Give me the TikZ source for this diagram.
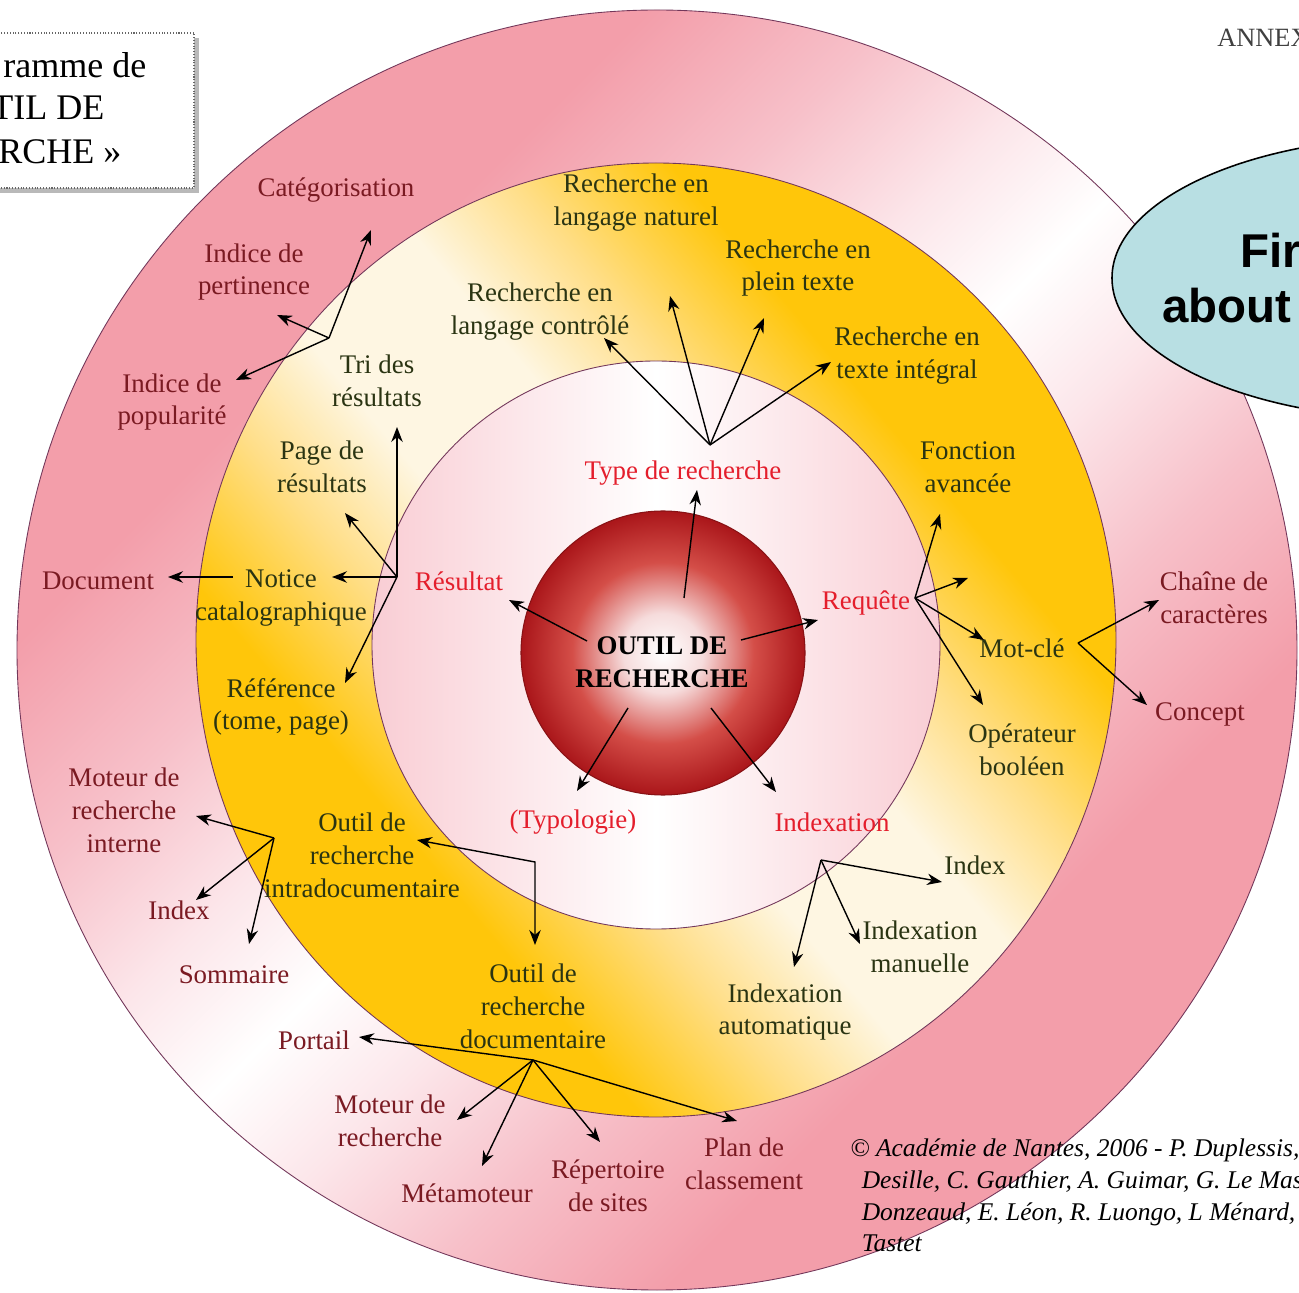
\documentclass[tikz,border=0pt]{standalone}
\usepackage{fontspec}
\setmainfont{Liberation Serif}
\newfontfamily\calloutfont{Liberation Sans}
\usetikzlibrary{arrows.meta}

\definecolor{pinkS}{RGB}{243,158,170}
\definecolor{pinkM}{RGB}{247,192,201}
\definecolor{pinkL}{RGB}{252,230,234}
\definecolor{goldS}{RGB}{255,198,10}
\definecolor{goldM}{RGB}{255,222,135}
\definecolor{goldL}{RGB}{254,246,226}
\definecolor{innerpink}{RGB}{249,205,212}
\definecolor{ballpale}{RGB}{246,220,220}
\definecolor{ballmid}{RGB}{212,78,72}
\definecolor{ballred}{RGB}{170,22,26}
\definecolor{edgeline}{RGB}{115,55,90}
\definecolor{outertext}{RGB}{122,26,34}
\definecolor{ringtext}{RGB}{42,52,18}
\definecolor{innertext}{RGB}{228,30,44}
\definecolor{calloutfill}{RGB}{184,223,227}

\pgfdeclareverticalshading{pinkaxis}{100bp}{color(0bp)=(pinkS); color(32bp)=(pinkS); color(39bp)=(pinkM); color(45bp)=(pinkL); color(50bp)=(white); color(55bp)=(pinkL); color(61bp)=(pinkM); color(68bp)=(pinkS); color(100bp)=(pinkS)}
\pgfdeclareverticalshading{goldaxis}{100bp}{color(0bp)=(goldS); color(33bp)=(goldS); color(40bp)=(goldM); color(46bp)=(goldL); color(54bp)=(goldL); color(60bp)=(goldM); color(67bp)=(goldS); color(100bp)=(goldS)}
\pgfdeclareradialshading{ballshade}{\pgfpoint{0bp}{0bp}}{color(0bp)=(white); color(7bp)=(ballpale); color(16bp)=(ballmid); color(25bp)=(ballred); color(50bp)=(ballred)}

\begin{document}
\begin{tikzpicture}[x=0.02cm,y=-0.02cm,
  lbl/.style={align=center,inner sep=1pt,font=\fontsize{15.3}{18.7}\selectfont},
  outerlbl/.style={lbl,text=outertext},
  ringlbl/.style={lbl,text=ringtext},
  innerlbl/.style={lbl,text=innertext},
  boxlbl/.style={anchor=west,inner sep=0pt,font=\fontsize{20.5}{24}\selectfont},
  arr/.style={-{Stealth[length=8.5pt,width=6.5pt]},line width=0.8pt},
  dblarr/.style={{Stealth[length=8.5pt,width=6.5pt]}-{Stealth[length=8.5pt,width=6.5pt]},line width=0.8pt}]
\useasboundingbox (0,0) rectangle (1299,1293);
\clip (0,0) rectangle (1299,1293);
\fill[white] (0,0) rectangle (1299,1293);

\shadedraw[shading=pinkaxis,shading angle=45,draw=edgeline,line width=0.5pt] (657,650) circle (640);
\shadedraw[shading=goldaxis,shading angle=-50,draw=edgeline,line width=0.5pt] (656,640) ellipse (460 and 477);
\shadedraw[left color=innerpink,right color=innerpink,middle color=white,draw=edgeline,line width=0.5pt] (656,645) circle (284);
\shadedraw[shading=ballshade,draw=ballred!80!black,line width=0.6pt] (663,653) circle (142);

\fill[gray!55] (-6,38) rectangle (199,193);
\draw[fill=white,draw=gray!80!black,densely dotted,line width=0.6pt] (-10,33) rectangle (194,188);
\node[boxlbl] (title1) at (3,65) {ramme de};
\node[boxlbl] (title2) at (-9,108) {TIL DE};
\node[boxlbl] (title3) at (-2,152) {RCHE »};

\node[anchor=west,inner sep=0pt,text=black!75,font=\fontsize{15}{18}\selectfont] (annex) at (1217,38) {ANNEX};

\draw[fill=calloutfill,line width=0.9pt] (1420,278) ellipse (308 and 141);
\node[anchor=base west,inner sep=0pt,font=\calloutfont\bfseries\fontsize{27}{32}\selectfont] (first) at (1240,268) {Fir};
\node[anchor=base west,inner sep=0pt,font=\calloutfont\bfseries\fontsize{27}{32}\selectfont] (about) at (1162,323) {about};

\node[anchor=north west,align=left,inner sep=0pt,font=\itshape\fontsize{14.5}{18.2}\selectfont] (credits) at (850,1138)
  {© Académie de Nantes, 2006 - P. Duplessis,\\\hspace*{0.45em}Desille, C. Gauthier, A. Guimar, G. Le Mas\\\hspace*{0.45em}Donzeaud, E. Léon, R. Luongo, L Ménard,\\\hspace*{0.45em}Tastet};

\node[outerlbl] (cat) at (336,190) {Catégorisation};
\node[outerlbl] (pert) at (254,272) {Indice de\\pertinence};
\node[outerlbl] (pop) at (172,402) {Indice de\\popularité};
\node[outerlbl] (doc) at (98,581) {Document};
\node[outerlbl] (moti) at (124,810) {Moteur de\\recherche\\interne};
\node[outerlbl] (indexl) at (179,910) {Index};
\node[outerlbl] (somm) at (234,975) {Sommaire};
\node[outerlbl] (port) at (314,1040) {Portail};
\node[outerlbl] (motr) at (390,1121) {Moteur de\\recherche};
\node[outerlbl] (meta) at (467,1193) {Métamoteur};
\node[outerlbl] (rep) at (608,1186) {Répertoire\\de sites};
\node[outerlbl] (plan) at (744,1164) {Plan de\\classement};
\node[outerlbl] (chaine) at (1214,598) {Chaîne de\\caractères};
\node[outerlbl] (concept) at (1200,714) {Concept};

\node[ringlbl] (natural) at (636,203) {Recherche en\\langage naturel};
\node[ringlbl] (plein) at (798,268) {Recherche en\\plein texte};
\node[ringlbl] (controle) at (540,312) {Recherche en\\langage contrôlé};
\node[ringlbl] (integral) at (907,356) {Recherche en\\texte intégral};
\node[ringlbl] (tri) at (377,381) {Tri des\\résultats};
\node[ringlbl] (page) at (322,467) {Page de\\résultats};
\node[ringlbl] (notice) at (281,598) {Notice\\catalographique};
\node[ringlbl] (ref) at (281,707) {Référence\\(tome, page)};
\node[ringlbl] (fonct) at (968,467) {Fonction\\avancée};
\node[ringlbl] (motcle) at (1022,648) {Mot-clé};
\node[ringlbl] (oper) at (1022,750) {Opérateur\\booléen};
\node[ringlbl] (intra) at (362,855) {Outil de\\recherche\\intradocumentaire};
\node[ringlbl] (outdoc) at (533,1006) {Outil de\\recherche\\documentaire};
\node[ringlbl] (indexr) at (975,865) {Index};
\node[ringlbl] (manu) at (920,947) {Indexation\\manuelle};
\node[ringlbl] (auto) at (785,1012) {Indexation\\automatique};

\node[innerlbl] (type) at (683,473) {Type de recherche};
\node[innerlbl] (resultat) at (459,581) {Résultat};
\node[innerlbl] (requete) at (866,603) {Requête};
\node[innerlbl] (typo) at (573,822) {(Typologie)};
\node[innerlbl] (indexation) at (832,822) {Indexation};

\node[align=center,inner sep=1pt,font=\bfseries\fontsize{15.3}{19}\selectfont] (outil) at (662,662) {OUTIL DE\\RECHERCHE};

\coordinate (hubTri) at (329,338);
\coordinate (hubRes) at (397,577);
\coordinate (hubType) at (710,445);
\coordinate (hubReq) at (915,598);
\coordinate (hubMot) at (1078,643);
\coordinate (hubIdx) at (821,860);
\coordinate (hubIntra) at (274,838);
\coordinate (hubDoc) at (533,1060);

\coordinate (toCat) at (371,230);
\coordinate (toPert) at (277,315);
\coordinate (toPop) at (236,380);
\coordinate (toTri) at (397,427);
\coordinate (toPage) at (345,513);
\coordinate (toNotice) at (332,577);
\coordinate (toRef) at (345,683);
\coordinate (fromNotice) at (233,577);
\coordinate (toDoc) at (168,577);
\coordinate (toCtrl) at (604,338);
\coordinate (toNat) at (670,296);
\coordinate (toPlein) at (764,318);
\coordinate (toInteg) at (831,362);
\coordinate (toFonct) at (940,514);
\coordinate (toBlank) at (968,578);
\coordinate (toMot) at (984,640);
\coordinate (toOper) at (983,705);
\coordinate (toChaine) at (1159,600);
\coordinate (toConcept) at (1147,705);
\coordinate (toIndexR) at (942,882);
\coordinate (toManu) at (860,944);
\coordinate (toAuto) at (794,967);
\coordinate (toMoti) at (196,816);
\coordinate (toIndexL) at (196,900);
\coordinate (toSomm) at (249,944);
\coordinate (toPort) at (359,1037);
\coordinate (toMotr) at (457,1120);
\coordinate (toMeta) at (482,1166);
\coordinate (toRep) at (600,1142);
\coordinate (toPlan) at (737,1121);
\coordinate (intraEnd) at (417,840);
\coordinate (bend) at (535,862);
\coordinate (docEnd) at (535,945);

\coordinate (c1) at (684,598);
\coordinate (c2) at (587,641);
\coordinate (c3) at (741,640);
\coordinate (c4) at (628,708);
\coordinate (c5) at (711,708);
\coordinate (toType) at (697,490);
\coordinate (toRes) at (509,600);
\coordinate (toReq) at (818,620);
\coordinate (toTypo) at (577,791);
\coordinate (toIdx) at (776,792);

\draw[arr] (c1) -- (toType);
\draw[arr] (c2) -- (toRes);
\draw[arr] (c3) -- (toReq);
\draw[arr] (c4) -- (toTypo);
\draw[arr] (c5) -- (toIdx);

\foreach \t in {toCat,toPert,toPop} \draw[arr] (hubTri) -- (\t);
\foreach \t in {toTri,toPage,toNotice,toRef} \draw[arr] (hubRes) -- (\t);
\draw[arr] (fromNotice) -- (toDoc);
\foreach \t in {toCtrl,toNat,toPlein,toInteg} \draw[arr] (hubType) -- (\t);
\foreach \t in {toFonct,toBlank,toMot,toOper} \draw[arr] (hubReq) -- (\t);
\foreach \t in {toChaine,toConcept} \draw[arr] (hubMot) -- (\t);
\foreach \t in {toIndexR,toManu,toAuto} \draw[arr] (hubIdx) -- (\t);
\foreach \t in {toMoti,toIndexL,toSomm} \draw[arr] (hubIntra) -- (\t);
\foreach \t in {toPort,toMotr,toMeta,toRep,toPlan} \draw[arr] (hubDoc) -- (\t);
\draw[dblarr] (intraEnd) -- (bend) -- (docEnd);
\end{tikzpicture}
\end{document}
